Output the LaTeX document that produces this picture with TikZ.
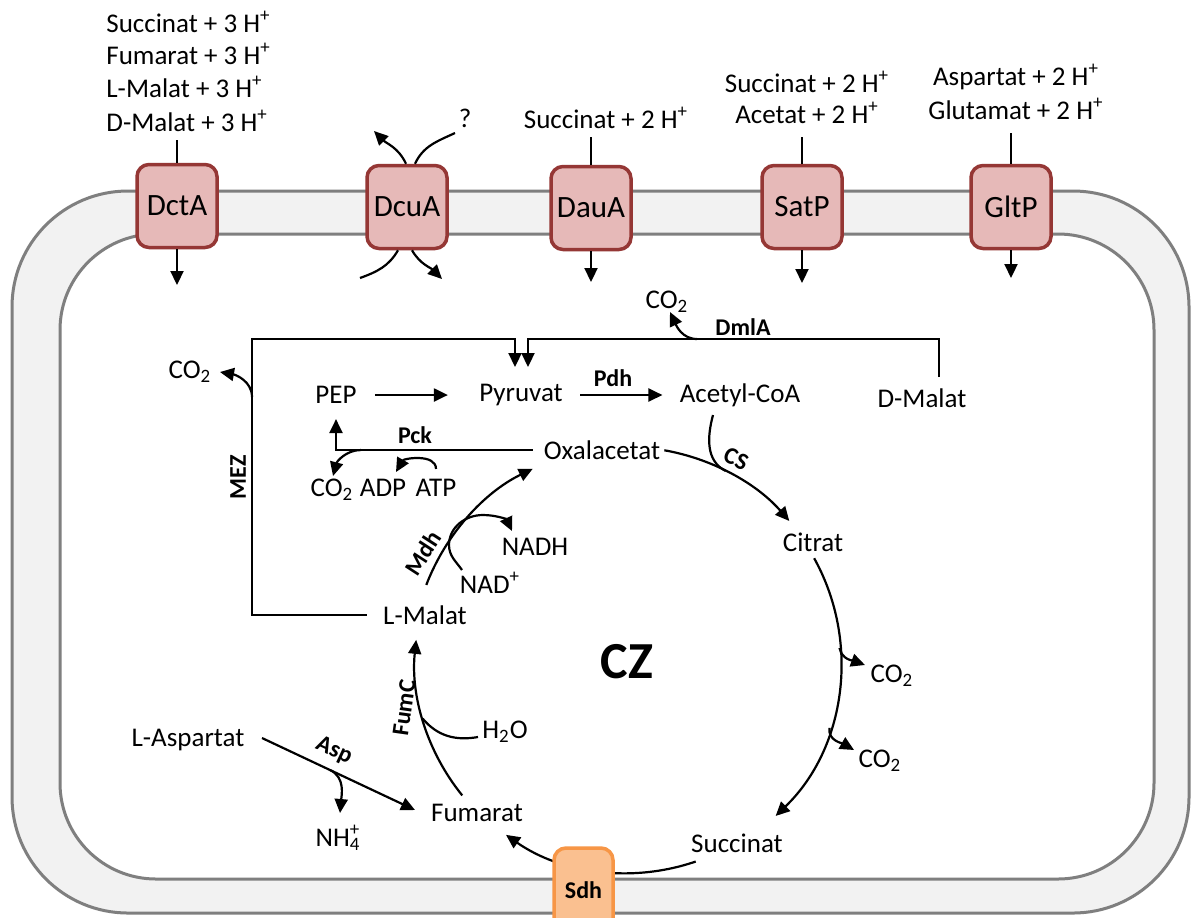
\documentclass[tikz,border=0pt]{standalone}
\usepackage{fontspec}
\setmainfont{Carlito}
\usetikzlibrary{arrows.meta,calc}
\definecolor{memb}{HTML}{7F7F7F}
\definecolor{membfill}{HTML}{F2F2F2}
\definecolor{trfill}{HTML}{E6B9B8}
\definecolor{trdraw}{HTML}{953735}
\definecolor{sdhfill}{HTML}{FAC090}
\definecolor{sdhdraw}{HTML}{F79646}
\begin{document}
\begin{tikzpicture}[x=0.5pt,y=0.5pt,
  lbl/.style={inner sep=0pt, font=\fontsize{13.5}{16}\selectfont},
  enz/.style={inner sep=0pt, font=\fontsize{12}{14}\selectfont\bfseries},
  trbox/.style={draw=trdraw, fill=trfill, line width=1.75pt, rounded corners=6pt,
    minimum width=40pt, minimum height=41.5pt, inner sep=0pt,
    font=\fontsize{15.5}{18}\selectfont},
  arr/.style={line width=1.1pt, -{Triangle[length=7pt,width=6.5pt]}},
  ln/.style={line width=1.1pt},
]
\useasboundingbox (0,0) rectangle (1193,-917);
\fill[white] (0,0) rectangle (1193,-917);
% membrane
\draw[memb, fill=membfill, line width=1.5pt, rounded corners=58pt] (12,-191) rectangle (1189,-913);
\draw[memb, fill=white, line width=1.5pt, rounded corners=48pt] (60,-234) rectangle (1154,-879);

% transporters
\node[trbox] (dcta) at (177,-206) {DctA};
\node[trbox] (dcua) at (407,-207) {DcuA};
\node[trbox] (daua) at (591,-208) {DauA};
\node[trbox] (satp) at (802,-207) {SatP};
\node[trbox] (gltp) at (1011,-207) {GltP};

% outside labels
\node[lbl, anchor=west] (dl1) at (106,-22) {Succinat + 3 H\textsuperscript{+}};
\node[lbl, anchor=west] (dl2) at (106,-54) {Fumarat + 3 H\textsuperscript{+}};
\node[lbl, anchor=west] (dl3) at (106,-87) {L-Malat + 3 H\textsuperscript{+}};
\node[lbl, anchor=west] (dl4) at (106,-121) {D-Malat + 3 H\textsuperscript{+}};
\node[lbl] (q) at (465,-118) {?};
\node[lbl] (dal) at (606,-118) {Succinat + 2 H\textsuperscript{+}};
\node[lbl] (sl1) at (807,-82) {Succinat + 2 H\textsuperscript{+}};
\node[lbl] (sl2) at (807,-113) {Acetat + 2 H\textsuperscript{+}};
\node[lbl] (gl1) at (1016,-77) {Aspartat + 2 H\textsuperscript{+}};
\node[lbl] (gl2) at (1016,-109) {Glutamat + 2 H\textsuperscript{+}};

% transporter connectors
\coordinate (dctaIn) at (177,-140);
\coordinate (dctaOut) at (177,-285);
\draw[ln] (dctaIn) -- (dcta.north);
\draw[arr] (dcta.south) -- (dctaOut);
\coordinate (dauaIn) at (591,-137);
\coordinate (dauaOut) at (591,-282);
\draw[ln] (dauaIn) -- (daua.north);
\draw[arr] (daua.south) -- (dauaOut);
\coordinate (satpIn) at (802,-137);
\coordinate (satpOut) at (802,-283);
\draw[ln] (satpIn) -- (satp.north);
\draw[arr] (satp.south) -- (satpOut);
\coordinate (gltpIn) at (1011,-133);
\coordinate (gltpOut) at (1011,-278);
\draw[ln] (gltpIn) -- (gltp.north);
\draw[arr] (gltp.south) -- (gltpOut);
\coordinate (dcuTL) at (374,-131);
\coordinate (dcuTR) at (455,-133);
\coordinate (dcuBL) at (360,-278);
\coordinate (dcuBR) at (442,-279);
\draw[arr] ([xshift=-0.5pt]dcua.north) to[out=115,in=-45] (dcuTL);
\draw[ln] ([xshift=4pt]dcua.north) to[out=65,in=205] (dcuTR);
\draw[ln] (dcuBL) to[out=20,in=-120] ([xshift=-4.5pt]dcua.south);
\draw[arr] ([xshift=2.5pt]dcua.south) to[out=-60,in=135] (dcuBR);

% metabolites
\node[lbl] (co2m) at (190,-372) {CO\textsubscript{2}};
\node[lbl] (pep) at (336,-395) {PEP};
\node[lbl] (pyr) at (521,-395) {Pyruvat};
\node[lbl] (acoa) at (740,-395) {Acetyl-CoA};
\node[lbl] (dmal) at (922,-398) {D-Malat};
\node[lbl] (co2d) at (667,-302) {CO\textsubscript{2}};
\node[enz] (dmla) at (743,-327) {DmlA};
\node[enz] (pdh) at (613,-378) {Pdh};
\node[lbl] (oxa) at (602,-450) {Oxalacetat};
\node[enz] (pck) at (415,-435) {Pck};
\node[lbl] (co2p) at (332,-490) {CO\textsubscript{2}};
\node[lbl] (adp) at (383,-488) {ADP};
\node[lbl] (atp) at (436,-488) {ATP};
\node[enz, rotate=90] (mez) at (238,-477) {MEZ};
\node[lbl] (cit) at (813,-542) {Citrat};
\node[lbl] (nadh) at (535,-547) {NADH};
\node[lbl] (nadp) at (490,-583) {NAD\textsuperscript{+}};
\node[enz, rotate=57] (mdh) at (423,-553) {Mdh};
\node[lbl] (lmal) at (425,-615) {L-Malat};
\node[inner sep=0pt, font=\fontsize{26}{30}\selectfont\bfseries] (czl) at (627,-662) {CZ};
\node[lbl] (co2c) at (892,-676) {CO\textsubscript{2}};
\node[lbl] (co2e) at (880,-761) {CO\textsubscript{2}};
\node[lbl] (h2o) at (505,-732) {H\textsubscript{2}O};
\node[enz, rotate=82] (fumc) at (404,-708) {FumC};
\node[lbl] (lasp) at (188,-740) {L-Aspartat};
\node[enz, rotate=-25] (asp) at (334,-751) {Asp};
\node[lbl] (nh4) at (338,-838) {NH\rlap{\textsuperscript{+}}\textsubscript{4}};
\node[lbl] (fum) at (477,-813) {Fumarat};
\node[lbl] (succ) at (737,-843) {Succinat};
\node[enz, rotate=-25] (cs) at (736,-459) {CS};

% MEZ frame
\coordinate (mezA) at (252,-339);
\coordinate (pin1) at (515,-367);
\draw[arr] ([xshift=-8pt]lmal.west) -| (mezA) -| (pin1);
\coordinate (mezJ) at (252,-397);
\coordinate (mezT) at (220,-372);
\draw[arr] (mezJ) to[out=90,in=-10] (mezT);

% DmlA frame
\coordinate (dmT) at (939,-377);
\coordinate (dmlC) at (528,-339);
\coordinate (pin2) at (528,-367);
\draw[arr] (dmT) |- (dmlC) -- (pin2);
\coordinate (dmJ) at (697,-339);
\coordinate (dmTip) at (670,-312);
\draw[arr] (dmJ) to[out=180,in=-65] (dmTip);

% PEP, Pdh
\draw[arr, shorten <=9pt, shorten >=15.5pt] (pep.east) -- (pyr.west);
\draw[arr, shorten <=8.5pt, shorten >=8.5pt] (pyr.east) -- (acoa.west);

% Pck
\draw[arr] ([xshift=-5.5pt]oxa.west) -| ([yshift=-7.5pt]pep.south);
\coordinate (pckJ) at (361,-450);
\coordinate (co2pT) at (333,-476);
\draw[arr] (pckJ) to[out=180,in=75] (co2pT);
\coordinate (adpT) at (396,-472);
\draw[arr] ([yshift=5pt]atp.north) to[out=90,in=60] (adpT);

% cycle
\coordinate (cc) at (627,-662);
\path (cc) ++(80:215) coordinate (csS);
\path (cc) ++(29:214) coordinate (citS);
\path (cc) ++(-71:211) coordinate (sucS);
\path (cc) ++(-141:212) coordinate (fumS);
\path (cc) ++(159:215) coordinate (malS);
\draw[arr] (csS) arc[start angle=80, end angle=41, radius=215];
\draw[arr] (citS) arc[start angle=29, end angle=-46, radius=214];
\draw[arr] (sucS) arc[start angle=-71, end angle=-125, radius=211];
\draw[arr] (fumS) arc[start angle=-141, end angle=-186, radius=212];
\draw[arr] (malS) arc[start angle=159, end angle=116, radius=215];

% branches on cycle
\path (cc) ++(62.7:215) coordinate (jA);
\coordinate (acoaS) at (713,-415);
\draw[ln] (acoaS) to[out=-105,in=153] (jA);
\path (cc) ++(3.8:213) coordinate (jC);
\coordinate (tC) at (865,-665);
\draw[arr] (jC) to[out=-80,in=160] (tC);
\path (cc) ++(-18:213) coordinate (jE);
\coordinate (tE) at (854,-750);
\draw[arr] (jE) to[out=-100,in=150] (tE);
\path (cc) ++(-164.5:212) coordinate (jH);
\coordinate (h2oS) at (478,-737);
\draw[ln] (h2oS) to[out=190,in=-50] (jH);
\coordinate (nadS) at (462,-570);
\coordinate (nadJ) at (449,-545);
\coordinate (nadP) at (483,-515);
\coordinate (nadT) at (512,-531);
\draw[arr] (nadS) to[out=125,in=-90] (nadJ) to[out=90,in=180] (nadP) to[out=0,in=115] (nadT);

% Asp
\coordinate (aspS) at (262,-738);
\coordinate (aspT) at (415,-810);
\draw[arr] (aspS) -- (aspT);
\coordinate (nhJ) at (330,-770);
\coordinate (nhT) at (340,-813);
\draw[arr] (nhJ) to[out=-25,in=85] (nhT);

% Sdh
\node[draw=sdhdraw, fill=sdhfill, line width=1.75pt, rounded corners=6pt,
  minimum width=29.5pt, minimum height=42pt, inner sep=0pt,
  font=\fontsize{12}{14}\selectfont\bfseries] (sdh) at (583.5,-890) {Sdh};
\end{tikzpicture}
\end{document}
